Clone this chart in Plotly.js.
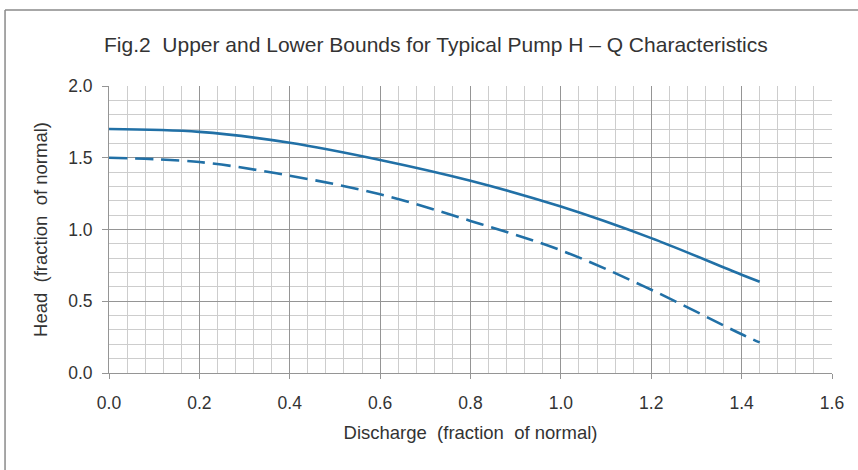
<!DOCTYPE html>
<html>
<head>
<meta charset="utf-8">
<script src="https://cdn.plot.ly/plotly-3.0.1.min.js"></script>
<style>
html,body{margin:0;padding:0;background:#fff;}
#chart{width:858px;height:470px;}
</style>
</head>
<body>
<div id="chart"></div>
<script>
var discharge = [0.0, 0.2, 0.4, 0.6, 0.8, 1.0, 1.2, 1.4, 1.44];
var headUpper = [1.70, 1.68, 1.605, 1.485, 1.34, 1.16, 0.94, 0.685, 0.636];
var headLower = [1.50, 1.47, 1.375, 1.245, 1.06, 0.855, 0.58, 0.27, 0.213];
var xTicks = [0.0, 0.2, 0.4, 0.6, 0.8, 1.0, 1.2, 1.4, 1.6];
var xTickText = ["0.0", "0.2", "0.4", "0.6", "0.8", "1.0", "1.2", "1.4", "1.6"];
var yTicks = [0.0, 0.5, 1.0, 1.5, 2.0];
var yTickText = ["0.0", "0.5", "1.0", "1.5", "2.0"];

var FONT = "'Liberation Sans Narrow', 'Arial Narrow', 'Liberation Sans', sans-serif";
var lineColor = "#2170a6";

var traces = [
  {x: discharge, y: headUpper, mode: "lines", line: {color: lineColor, width: 2.6, shape: "spline"}, hoverinfo: "skip"},
  {x: discharge, y: headLower, mode: "lines", line: {color: lineColor, width: 2.6, shape: "spline", dash: "18px,8px"}, hoverinfo: "skip"}
];

var layout = {
  width: 858, height: 470,
  margin: {l: 109, r: 26, t: 86, b: 97},
  paper_bgcolor: "#fff", plot_bgcolor: "#fff",
  showlegend: false,
  font: {family: FONT, color: "#333", size: 16},
  title: {text: "Fig.2  Upper and Lower Bounds for Typical Pump H \u2013 Q Characteristics",
          font: {family: FONT, size: 21, color: "#333"}, x: 0.508, xanchor: "center", y: 0.905, yanchor: "middle"},
  xaxis: {
    range: [0, 1.6], tickmode: "array", tickvals: xTicks, ticktext: xTickText,
    showgrid: true, gridcolor: "#959595", gridwidth: 1,
    minor: {dtick: 0.04, showgrid: true, gridcolor: "#cdcdcd", gridwidth: 1, ticks: ""},
    ticks: "outside", ticklen: 5, tickcolor: "#959595", ticklabelstandoff: 9,
    showline: true, linecolor: "#959595", linewidth: 1, zeroline: false,
    tickfont: {family: FONT, size: 17.5, color: "#333"},
    title: {text: "Discharge  (fraction  of normal)", font: {family: FONT, size: 18.5, color: "#333"}, standoff: 14}
  },
  yaxis: {
    range: [0, 2.0], tickmode: "array", tickvals: yTicks, ticktext: yTickText,
    showgrid: true, gridcolor: "#959595", gridwidth: 1,
    minor: {dtick: 0.1, showgrid: true, gridcolor: "#cdcdcd", gridwidth: 1, ticks: ""},
    ticks: "outside", ticklen: 6, tickcolor: "#959595", ticklabelstandoff: 6,
    showline: true, linecolor: "#959595", linewidth: 1, zeroline: false,
    tickfont: {family: FONT, size: 17.5, color: "#333"},
    title: {text: "Head  (fraction  of normal)", font: {family: FONT, size: 18.5, color: "#333"}, standoff: 15}
  },
  shapes: [
    {type: "line", xref: "paper", yref: "paper", x0: -0.1438, x1: -0.1438, y0: -0.34, y1: 1.2648, line: {color: "#8a8a8a", width: 1.5}},
    {type: "line", xref: "paper", yref: "paper", x0: -0.1438, x1: 1.04, y0: 1.2648, y1: 1.2648, line: {color: "#8a8a8a", width: 1.5}}
  ]
};

Plotly.newPlot("chart", traces, layout, {staticPlot: true, displayModeBar: false});
</script>
</body>
</html>
